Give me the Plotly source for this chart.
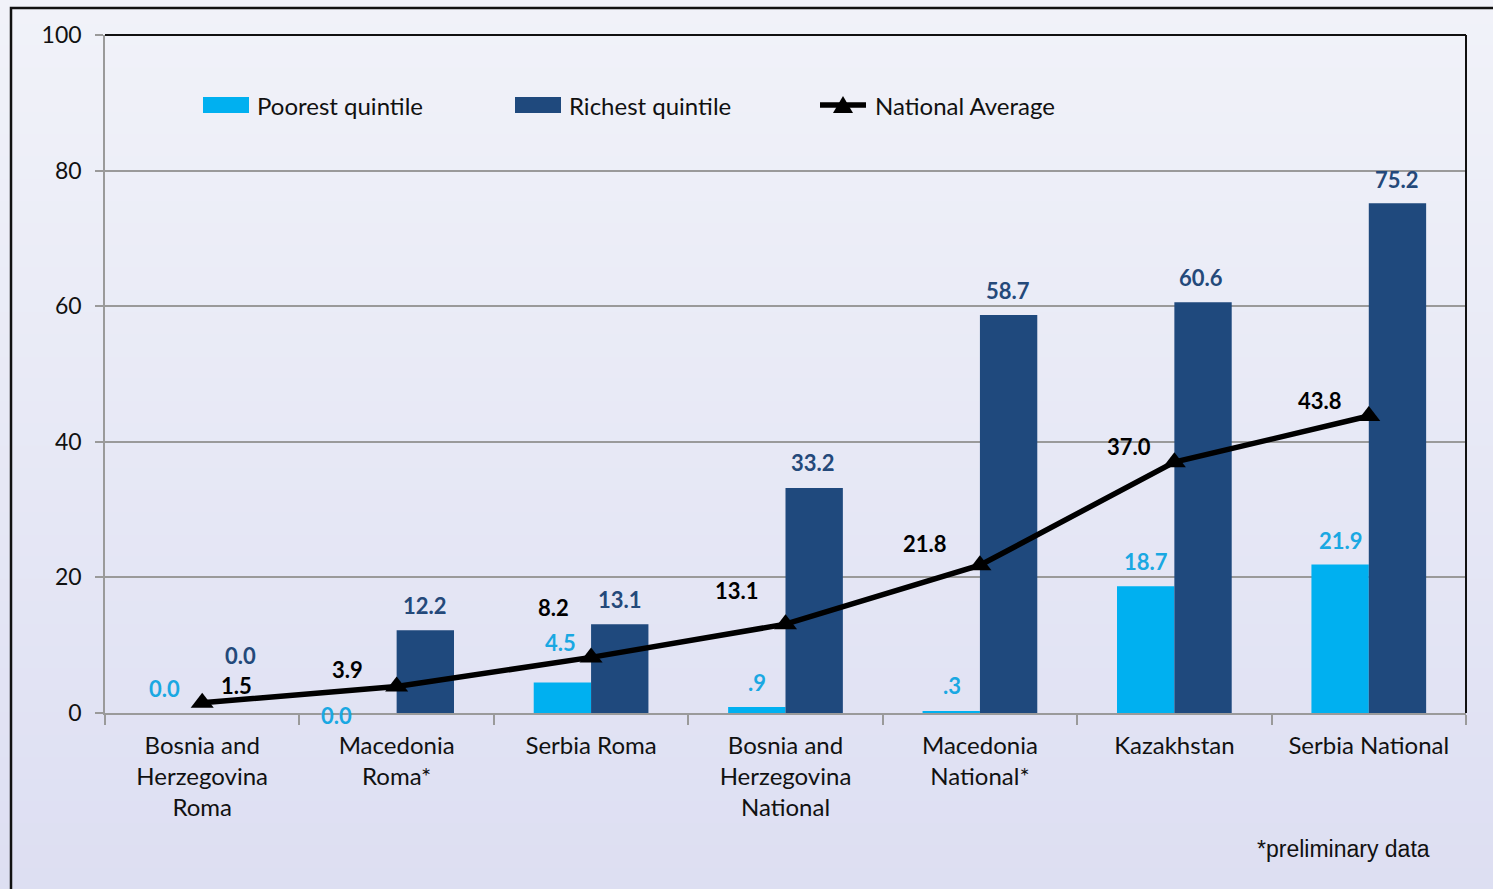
import plotly.graph_objects as go

# --- data -------------------------------------------------------------
categories = [
    "Bosnia and<br>Herzegovina<br>Roma",
    "Macedonia<br>Roma*",
    "Serbia Roma",
    "Bosnia and<br>Herzegovina<br>National",
    "Macedonia<br>National*",
    "Kazakhstan",
    "Serbia National",
]
poorest = [0.0, 0.0, 4.5, 0.9, 0.3, 18.7, 21.9]
richest = [0.0, 12.2, 13.1, 33.2, 58.7, 60.6, 75.2]
national = [1.5, 3.9, 8.2, 13.1, 21.8, 37.0, 43.8]
y_ticks = [0, 20, 40, 60, 80, 100]

# --- style --------------------------------------------------------------
W, H = 1493, 889
M_L, M_R, M_T, M_B = 105, 27, 35, 176
PW, PH = W - M_L - M_R, H - M_T - M_B

C_POOR = "#00b0f0"
C_RICH = "#1f497d"
C_POOR_TXT = "#1aa8e2"
C_RICH_TXT = "#24497a"
FONT = "Lato"
GRID = "#9a9a9a"


def px(xp):
    return (xp - M_L) / PW


def py(yp):
    return (H - M_B - yp) / PH


def fmt(v):
    s = f"{v:.1f}"
    return s[1:] if s.startswith("0.") and v > 0 else s


# label offsets (pixels, x right / y up) relative to category centre and value
poor_off = [(-38, 25), (-60, -2), (-31, 40), (-29, 24), (-28, 25), (-28, 25), (-28, 24)]
rich_off = [(38, 58), (28, 25), (29, 25), (27, 25), (28, 25), (27, 25), (28, 24)]
nat_off = [(34, 17), (-49, 17), (-38, 50), (-49, 34), (-55, 22), (-45, 16), (-49, 16)]

fig = go.Figure()
fig.add_trace(go.Bar(x=categories, y=poorest, name="Poorest quintile",
                     marker=dict(color=C_POOR, line=dict(width=0))))
fig.add_trace(go.Bar(x=categories, y=richest, name="Richest quintile",
                     marker=dict(color=C_RICH, line=dict(width=0))))
fig.add_trace(go.Scatter(x=categories, y=national, name="National Average",
                         mode="lines+markers",
                         line=dict(color="black", width=5.5),
                         marker=dict(symbol="triangle-up", size=20, color="black")))

ann = []
for vals, offs, col in ((poorest, poor_off, C_POOR_TXT),
                        (richest, rich_off, C_RICH_TXT),
                        (national, nat_off, "black")):
    for cat, v, (dx, dy) in zip(categories, vals, offs):
        ann.append(dict(x=cat, y=v, xref="x", yref="y", text=f"<b>{fmt(v)}</b>",
                        showarrow=False, xshift=dx, yshift=dy,
                        xanchor="center", yanchor="middle",
                        font=dict(family=FONT, size=22, color=col)))

# legend drawn as swatches + text
shapes = []
leg_y = 105
shapes.append(dict(type="rect", xref="paper", yref="paper", x0=px(203), x1=px(249),
                   y0=py(leg_y + 8), y1=py(leg_y - 8), fillcolor=C_POOR, line_width=0))
shapes.append(dict(type="rect", xref="paper", yref="paper", x0=px(515), x1=px(561),
                   y0=py(leg_y + 8), y1=py(leg_y - 8), fillcolor=C_RICH, line_width=0))
shapes.append(dict(type="line", xref="paper", yref="paper", x0=px(820), x1=px(866),
                   y0=py(leg_y), y1=py(leg_y), line=dict(color="black", width=5.5)))
shapes.append(dict(type="path", xref="paper", yref="paper",
                   path=f"M {px(833)},{py(leg_y + 8)} L {px(853)},{py(leg_y + 8)} "
                        f"L {px(843)},{py(leg_y - 9)} Z",
                   fillcolor="black", line_width=0))
for xp, t in ((255, "Poorest quintile"), (567, "Richest quintile"), (873, "National Average")):
    ann.append(dict(x=px(xp), y=py(leg_y), xref="paper", yref="paper", text=t,
                    showarrow=False, xanchor="left", yanchor="middle",
                    font=dict(family=FONT, size=24, color="#111111")))

ann.append(dict(x=px(1255), y=py(849), xref="paper", yref="paper",
                text="*preliminary data", showarrow=False, xanchor="left",
                yanchor="middle", font=dict(family="Liberation Sans", size=23, color="#111111")))

# background gradient bands
n_bands = 40
top_c = (0xf1, 0xf2, 0xf9)
bot_c = (0xdd, 0xdf, 0xf2)
for i in range(n_bands):
    f = i / (n_bands - 1)
    c = tuple(round(top_c[k] + (bot_c[k] - top_c[k]) * f) for k in range(3))
    y0p = H * i / n_bands
    y1p = H * (i + 1) / n_bands + 1
    shapes.insert(0, dict(type="rect", xref="paper", yref="paper", layer="below",
                          x0=px(-5), x1=px(W + 5), y0=py(y1p), y1=py(y0p),
                          fillcolor="rgb(%d,%d,%d)" % c, line_width=0))

# plot frame top/right and outer border
shapes.append(dict(type="line", xref="paper", yref="paper", x0=0, x1=1, y0=1, y1=1,
                   line=dict(color="#111111", width=2)))
shapes.append(dict(type="line", xref="paper", yref="paper", x0=1, x1=1, y0=0, y1=1,
                   line=dict(color="#111111", width=2)))
shapes.append(dict(type="rect", xref="paper", yref="paper",
                   x0=px(11), x1=px(W + 20), y0=py(H + 20), y1=py(8),
                   line=dict(color="#111111", width=2.5), fillcolor="rgba(0,0,0,0)"))

fig.update_layout(
    width=W, height=H,
    margin=dict(l=M_L, r=M_R, t=M_T, b=M_B),
    paper_bgcolor="#e8eaf6",
    plot_bgcolor="rgba(0,0,0,0)",
    barmode="group", bargap=0.41, bargroupgap=0,
    showlegend=False,
    annotations=ann, shapes=shapes,
    font=dict(family=FONT, size=22, color="#111111"),
    xaxis=dict(range=[-0.5, 6.5], showgrid=False, showline=True, linecolor=GRID,
               linewidth=1.5, ticks="outside", tickson="boundaries", ticklen=10,
               tickcolor=GRID, tickwidth=1.5, tickfont=dict(family=FONT, size=24, color="#111111"),
               zeroline=False, ticklabelstandoff=10),
    yaxis=dict(range=[0, 100], tickvals=y_ticks, showgrid=True, gridcolor=GRID,
               gridwidth=1.5, showline=True, linecolor=GRID, linewidth=1.5,
               ticks="outside", ticklen=8, tickcolor=GRID, tickwidth=1.5,
               tickfont=dict(family=FONT, size=23, color="#111111"),
               zeroline=False, ticklabelstandoff=9),
)

fig.write_html("out.html")
